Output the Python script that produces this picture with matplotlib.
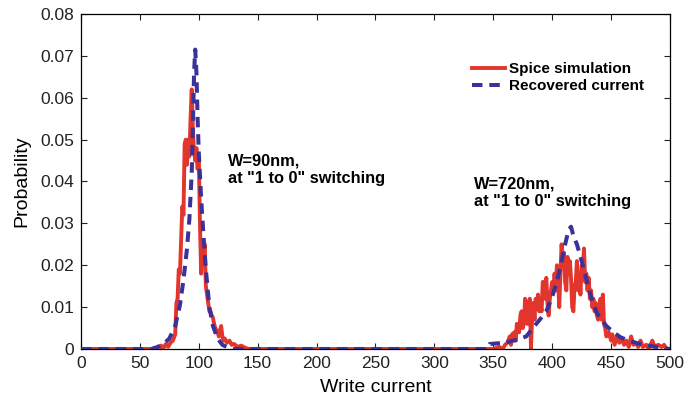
import matplotlib
matplotlib.use("Agg")
import matplotlib.pyplot as plt

# ─── Data ────────────────────────────────────────────────────────
spice_x = [0, 60, 63, 66, 68, 70, 72, 74, 76, 78, 80, 81, 82, 83, 84, 85, 86, 87, 88, 89,
           90, 91, 92, 93, 94, 95, 96, 97, 98, 99, 100, 101, 102, 103, 104, 105, 106, 107,
           108, 109, 110, 111, 112, 113, 114, 115, 116, 117, 118, 119, 120, 121, 122, 124,
           126, 128, 130, 133, 136, 140, 143,
           350, 355, 358, 360, 362, 364, 365, 366, 368, 369, 370, 372, 373, 374, 375, 376,
           377, 378, 379, 380, 381, 382, 383, 384, 385, 386, 387, 388, 389, 390, 391, 392,
           393, 394, 395, 396, 397, 398, 399, 400, 401, 402, 403, 404, 405, 406, 407, 408,
           409, 410, 411, 412, 413, 414, 415, 416, 417, 418, 419, 420, 421, 422, 423, 424,
           425, 426, 427, 428, 429, 430, 431, 432, 433, 434, 435, 436, 437, 438, 439, 440,
           441, 442, 443, 444, 445, 446, 448, 450, 451, 453, 455, 457, 459, 461, 463, 465,
           467, 469, 471, 473, 475, 477, 480, 482, 485, 487, 490, 493, 495, 497, 500]
spice_y = [0, 0, 0.0003, 0, 0.0008, 0.0002, 0.0012, 0.0005, 0.0015, 0.002, 0.0035, 0.011,
           0.012, 0.019, 0.018, 0.026, 0.034, 0.032, 0.049, 0.050,
           0.044, 0.050, 0.046, 0.055, 0.062, 0.052, 0.047, 0.045, 0.048, 0.043, 0.046,
           0.030, 0.018, 0.026, 0.022, 0.025, 0.015, 0.013,
           0.011, 0.009, 0.009, 0.008, 0.0075, 0.006, 0.005, 0.0045, 0.004, 0.003, 0.0045,
           0.0055, 0.003, 0.002, 0.0025, 0.0015,
           0.002, 0.001, 0.0012, 0.0005, 0.0008, 0.0002, 0,
           0, 0.0005, 0, 0.001, 0.0015, 0.003, 0.001, 0.0035, 0.004, 0.002, 0.006, 0.004,
           0.008, 0.009, 0.005, 0.006,
           0.012, 0.011, 0.006, 0.008, 0.012, 0.0, 0.008, 0.011, 0.007, 0.012, 0.010, 0.013,
           0.009, 0.011, 0.009, 0.016,
           0.016, 0.012, 0.017, 0.011, 0.008, 0.012, 0.014, 0.016, 0.014, 0.018, 0.014,
           0.020, 0.016, 0.010, 0.018, 0.025,
           0.020, 0.023, 0.016, 0.014, 0.022, 0.018, 0.021, 0.017, 0.010, 0.009, 0.015,
           0.016, 0.021, 0.014, 0.018, 0.013,
           0.020, 0.019, 0.024, 0.016, 0.018, 0.014, 0.017, 0.012, 0.014, 0.010, 0.012,
           0.009, 0.011, 0.008, 0.007, 0.009,
           0.012, 0.007, 0.013, 0.006, 0.005, 0.003, 0.004, 0.002, 0.0035, 0.001, 0.003,
           0.0015, 0.0025, 0.001, 0.002, 0.0005,
           0.003, 0.001, 0.0015, 0.0005, 0.002, 0.0005, 0.001, 0, 0.002, 0.0005, 0.001,
           0.0005, 0.001, 0, 0]

recovered_x = [0, 60, 65, 70, 75, 80, 84, 87, 90, 92, 94, 95, 96, 97, 98, 99, 100, 102,
               104, 106, 109, 112, 116, 120, 125, 130,
               345, 347, 360, 370, 378, 385, 390, 395, 400, 404, 408, 411, 414, 416, 418,
               421, 424, 427, 430, 434, 438, 442, 446, 452, 458, 465, 472, 480, 488, 495, 500]
recovered_y = [0, 0, 0.0005, 0.0012, 0.0025, 0.0055, 0.0105, 0.0165, 0.024, 0.031, 0.042,
               0.053, 0.066, 0.0715, 0.066, 0.055, 0.047, 0.036,
               0.027, 0.019, 0.010, 0.0055, 0.0025, 0.001, 0.0003, 0,
               0, 0.0012, 0.0015, 0.0022, 0.003, 0.0055, 0.0072, 0.009, 0.0125, 0.016, 0.021,
               0.025, 0.0285, 0.0292, 0.027,
               0.025, 0.022, 0.019, 0.0155, 0.0115, 0.0085, 0.007, 0.0055, 0.004, 0.0028,
               0.002, 0.0014, 0.0009, 0.0005, 0.0002, 0]

x_ticks = [0, 50, 100, 150, 200, 250, 300, 350, 400, 450, 500]
y_ticks = [0, 0.01, 0.02, 0.03, 0.04, 0.05, 0.06, 0.07, 0.08]

RED = "#e2352b"
BLUE = "#3a3199"

plt.rcParams["font.family"] = ["Liberation Sans", "DejaVu Sans"]

fig = plt.figure(figsize=(6.84, 4.08), dpi=100)
ax = fig.add_axes([0.1184, 0.1446, 0.8611, 0.8211])

ax.plot(spice_x, spice_y, color=RED, linewidth=2.8, label="Spice simulation", zorder=2)
ax.plot(recovered_x, recovered_y, color=BLUE, linewidth=2.9, linestyle=(0, (2.6, 1.7)),
        label="Recovered current", zorder=3)

ax.set_xlim(0, 500)
ax.set_ylim(0, 0.08)
ax.set_xticks(x_ticks)
ax.set_yticks(y_ticks)
ax.set_yticklabels(["0" if v == 0 else f"{v:.2f}" for v in y_ticks])
ax.tick_params(direction="in", length=4, width=0.8, top=True, right=True,
               labelsize=12.5, colors="#222222", pad=5)
for s in ax.spines.values():
    s.set_linewidth(0.9)

ax.set_xlabel("Write current", fontsize=14, labelpad=6)
ax.set_ylabel("Probability", fontsize=14, labelpad=7)

ax.text(125, 0.0428, 'W=90nm,\nat "1 to 0" switching', fontsize=11.8,
        fontweight="bold", va="center", ha="left", linespacing=1.15)
ax.text(333.5, 0.0373, 'W=720nm,\nat "1 to 0" switching', fontsize=11.8,
        fontweight="bold", va="center", ha="left", linespacing=1.15)

ax.legend(loc="center left", bbox_to_anchor=(0.640, 0.81), frameon=False,
          prop={"weight": "bold", "size": 11}, handlelength=2.15,
          handletextpad=0.3, labelspacing=0.18)

fig.savefig("out.png", dpi=100)
